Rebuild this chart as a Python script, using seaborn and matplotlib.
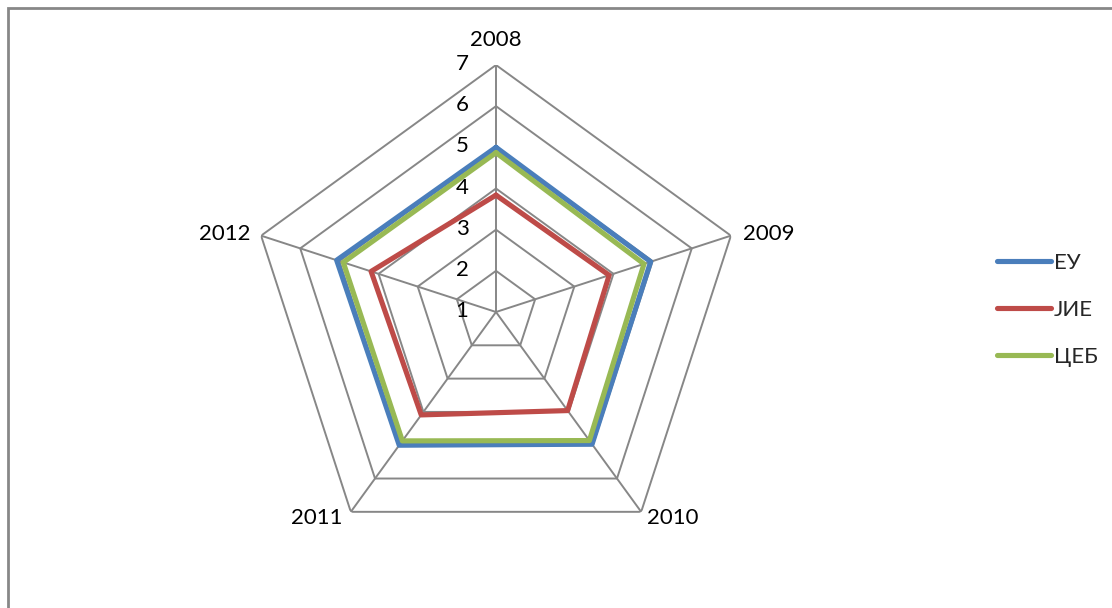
# Radar chart: ЕУ / ЈИЕ / ЦЕБ, 2008-2012
import numpy as np
import pandas as pd
import matplotlib
matplotlib.use("Agg")
import matplotlib.pyplot as plt
import matplotlib.patches as patches
import seaborn as sns

# Data
years = ["2008", "2009", "2010", "2011", "2012"]
eu = [5.0, 4.95, 4.97, 5.0, 5.07]
jie = [3.84, 3.89, 3.96, 4.09, 4.19]
ceb = [4.87, 4.78, 4.86, 4.87, 4.9]
series_names = ["ЕУ", "ЈИЕ", "ЦЕБ"]
levels = [1, 2, 3, 4, 5, 6, 7]

colors = ["#4A7EBB", "#BE4B48", "#98B954"]
grid_color = "#878787"

sns.set_theme(style="white")
plt.rcParams["font.family"] = ["Lato", "DejaVu Sans"]

theta = np.deg2rad(np.arange(len(years)) * 72.0)
theta_closed = np.append(theta, 2 * np.pi)

rows = []
for name, vals in zip(series_names, [eu, jie, ceb]):
    for t, v in zip(theta_closed, vals + vals[:1]):
        rows.append({"theta": t, "value": v, "series": name})
df = pd.DataFrame(rows)

W, H = 1112, 608
fig = plt.figure(figsize=(W / 100, H / 100), dpi=100)

# centre (496, 312) px, radius 247 px
cx, cy, R = 496, 312, 247
ax = fig.add_axes([(cx - R) / W, (H - cy - R) / H, 2 * R / W, 2 * R / H], projection="polar")
ax.set_theta_zero_location("N")
ax.set_theta_direction(-1)
ax.set_ylim(levels[0], levels[-1])
ax.grid(False)
ax.spines["polar"].set_visible(False)
ax.set_xticks([])
ax.set_yticks([])
ax.patch.set_alpha(0)

# pentagon gridlines and spokes
for lv in levels[1:]:
    ax.plot(theta_closed, [lv] * len(theta_closed), color=grid_color, lw=1.4, zorder=1)
for t in theta:
    ax.plot([t, t], [levels[0], levels[-1]], color=grid_color, lw=1.4, zorder=1)

sns.lineplot(data=df, x="theta", y="value", hue="series", palette=colors,
             sort=False, estimator=None, lw=3.7, ax=ax, legend=True, zorder=3)
for ln in ax.lines[-3:]:
    ln.set_solid_joinstyle("miter")
    ln.set_solid_capstyle("round")
ax.set_xlabel("")
ax.set_ylabel("")

# radial value labels
for lv in levels:
    ax.annotate(str(lv), (0, lv), xytext=(-34, 1), textcoords="offset pixels",
                ha="center", va="center", fontsize=16, color="black")

# category labels
label_pos = [
    ((0, 15), "center", "bottom"),
    ((12, 2), "left", "center"),
    ((6, 4), "left", "top"),
    ((-8, 4), "right", "top"),
    ((-11, 2), "right", "center"),
]
for t, yr, (off, ha, va) in zip(theta, years, label_pos):
    ax.annotate(yr, (t, levels[-1]), xytext=off, textcoords="offset pixels",
                ha=ha, va=va, fontsize=16, color="black", annotation_clip=False)

# legend on the right
handles, labels = ax.get_legend_handles_labels()
ax.get_legend().remove()
for h in handles:
    h.set_linewidth(3.7)
    h.set_solid_capstyle("round")
fig.legend(handles, labels, loc="center left", bbox_to_anchor=(988 / W, 1 - 310 / H),
           frameon=False, fontsize=16, handlelength=2.45, handletextpad=0.12,
           labelspacing=1.22, borderaxespad=0)

# outer chart border
fig.patches.append(patches.Rectangle((8 / W, -0.1), 1.2, 1.1 - 8 / H, transform=fig.transFigure,
                                     fill=False, edgecolor=grid_color, lw=2, clip_on=False))

fig.savefig("out.png", dpi=100, facecolor="white")
